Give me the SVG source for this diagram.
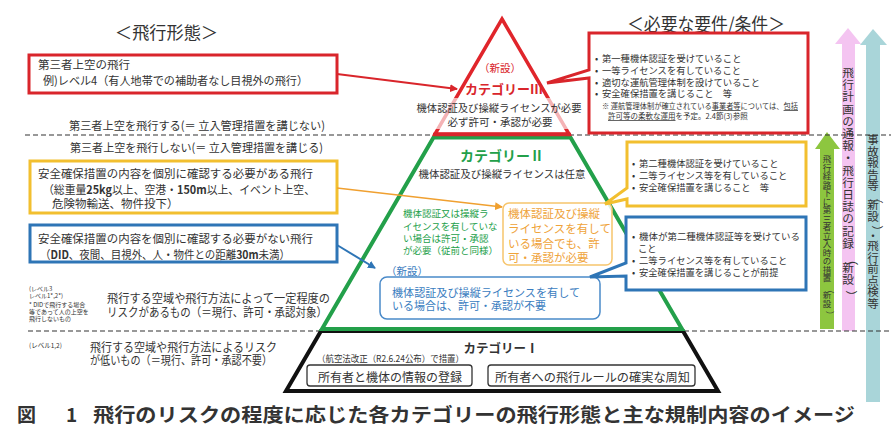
<svg xmlns="http://www.w3.org/2000/svg" width="892" height="441" viewBox="0 0 892 441">
<style>
text{font-family:"Noto Sans CJK JP","Noto Sans",sans-serif;fill:#333;dominant-baseline:central}
.b{font-weight:700}
.dash{stroke:#333;stroke-width:1.2;stroke-dasharray:5 3;fill:none}
.vt{text-anchor:middle}
.red{fill:#D9252B}
.grn{fill:#23A04A}
.org{fill:#EFA33A}
.blu{fill:#3A7DC0}
.u{text-decoration:underline}
</style>
<defs>
<marker id="ahR" markerWidth="8" markerHeight="8" refX="7" refY="4" orient="auto" markerUnits="userSpaceOnUse"><path d="M0,0 L8,4 L0,8 Z" fill="#D9252B"/></marker>
<marker id="ahO" markerWidth="8" markerHeight="8" refX="7" refY="4" orient="auto" markerUnits="userSpaceOnUse"><path d="M0,0 L8,4 L0,8 Z" fill="#F0A030"/></marker>
<marker id="ahB" markerWidth="8" markerHeight="8" refX="7" refY="4" orient="auto" markerUnits="userSpaceOnUse"><path d="M0,0 L8,4 L0,8 Z" fill="#2E75B6"/></marker>
</defs>
<rect width="892" height="441" fill="#fff"/>

<!-- side arrows -->
<g id="arrow-green">
<polygon points="827,132 840,149 834,149 834,329 820,329 820,149 815,149" fill="#8DC63F"/>
<text class="vt" font-size="8.5"><tspan x="827" y="158">飛</tspan><tspan x="827" y="166.5">行</tspan><tspan x="827" y="175">経</tspan><tspan x="827" y="183.5">路</tspan><tspan x="827" y="192">下</tspan><tspan x="827" y="200.5">に</tspan><tspan x="827" y="209">第</tspan><tspan x="827" y="217.5">三</tspan><tspan x="827" y="226">者</tspan><tspan x="827" y="234.5">立</tspan><tspan x="827" y="243">入</tspan><tspan x="827" y="251.5">時</tspan><tspan x="827" y="260">の</tspan><tspan x="827" y="268.5">措</tspan><tspan x="827" y="277">置</tspan><tspan x="831.25" y="281.25" rotate="90">（</tspan><tspan x="827" y="294">新</tspan><tspan x="827" y="302.5">設</tspan><tspan x="831.25" y="306.75" rotate="90">）</tspan></text>
</g>
<g id="arrow-pink">
<polygon points="848,28 861,44 855,44 855,331 842,331 842,44 835,44" fill="#F4C4F1"/>
<text class="vt" font-size="11.7"><tspan x="848" y="71">飛</tspan><tspan x="848" y="83.2">行</tspan><tspan x="848" y="95.4">計</tspan><tspan x="848" y="107.6">画</tspan><tspan x="848" y="119.8">の</tspan><tspan x="848" y="132">通</tspan><tspan x="848" y="144.2">報</tspan><tspan x="848" y="156.4">・</tspan><tspan x="848" y="168.6">飛</tspan><tspan x="848" y="180.8">行</tspan><tspan x="848" y="193">日</tspan><tspan x="848" y="205.2">誌</tspan><tspan x="848" y="217.4">の</tspan><tspan x="848" y="229.6">記</tspan><tspan x="848" y="241.8">録</tspan><tspan x="853.85" y="248.15" rotate="90">（</tspan><tspan x="848" y="266.2">新</tspan><tspan x="848" y="278.4">設</tspan><tspan x="853.85" y="284.75" rotate="90">）</tspan></text>
</g>
<g id="arrow-teal">
<polygon points="873,29 887,45 880,45 880,402 866,402 866,45 860,45" fill="#A9D5D9"/>
<text class="vt" font-size="11.5"><tspan x="873" y="139">事</tspan><tspan x="873" y="150.5">故</tspan><tspan x="873" y="162">報</tspan><tspan x="873" y="173.5">告</tspan><tspan x="873" y="185">等</tspan><tspan x="878.75" y="187.25" rotate="90">（</tspan><tspan x="873" y="204">新</tspan><tspan x="873" y="215.5">設</tspan><tspan x="878.75" y="220.25" rotate="90">）</tspan><tspan x="873" y="235">・</tspan><tspan x="873" y="245">飛</tspan><tspan x="873" y="256.5">行</tspan><tspan x="873" y="268">前</tspan><tspan x="873" y="279.5">点</tspan><tspan x="873" y="291">検</tspan><tspan x="873" y="302.5">等</tspan></text>
</g>

<!-- dashed separators -->
<g id="separators">
<line class="dash" x1="25" y1="135" x2="891" y2="135"/>
<line class="dash" x1="28" y1="331" x2="891" y2="331"/>
</g>

<!-- headers -->
<text id="header-left" x="115" y="31" font-size="17" textLength="103" lengthAdjust="spacingAndGlyphs">＜飛行形態＞</text>
<text id="header-right" x="627" y="23" font-size="18" textLength="158" lengthAdjust="spacingAndGlyphs">＜必要な要件/条件＞</text>

<!-- pyramid -->
<g id="node-cat1">
<polygon points="321,331 683,331 718,391 286,391" fill="#fff" stroke="#111" stroke-width="4" stroke-linejoin="miter"/>
<text class="b" x="501" y="347" font-size="12.5" text-anchor="middle" fill="#222">カテゴリーⅠ</text>
<text x="317" y="358" font-size="9" textLength="147" lengthAdjust="spacingAndGlyphs">（航空法改正（R2.6.24公布）で措置）</text>
<rect x="307" y="365" width="165" height="21" rx="3" fill="#fff" stroke="#333" stroke-width="1.3"/>
<text x="318" y="376" font-size="12" textLength="144" lengthAdjust="spacingAndGlyphs">所有者と機体の情報の登録</text>
<rect x="488" y="365" width="207" height="21" rx="3" fill="#fff" stroke="#333" stroke-width="1.3"/>
<text x="495" y="376" font-size="12" textLength="195" lengthAdjust="spacingAndGlyphs">所有者への飛行ルールの確実な周知</text>
</g>

<g id="node-cat2">
<polygon points="433.5,137.5 570.5,137.5 682,329 322,329" fill="#fff" stroke="#23A04A" stroke-width="4"/>
<text class="b grn" x="502" y="155" font-size="14" text-anchor="middle">カテゴリーⅡ</text>
<text x="502" y="173" font-size="10.5" text-anchor="middle" textLength="167" lengthAdjust="spacingAndGlyphs">機体認証及び操縦ライセンスは任意</text>
<g font-size="9.5">
<text class="grn" x="403" y="213">機体認証又は操縦ラ</text>
<text class="grn" x="403" y="226">イセンスを有していな</text>
<text class="grn" x="403" y="238">い場合は許可・承認</text>
<text class="grn" x="403" y="250">が必要（従前と同様）</text>
</g>
</g>

<g id="node-cat3">
<polygon points="502,19 569,134 435,134" fill="#fff" stroke="#E0252B" stroke-width="3.5" stroke-linejoin="miter"/>
<line x1="433" y1="134.5" x2="571" y2="134.5" stroke="#D9252B" stroke-width="3.5"/>
<rect x="412" y="98" width="178" height="31" fill="#fff" opacity="0.65"/>
<text class="red" x="500" y="67" font-size="10.5" text-anchor="middle">（新設）</text>
<text class="b red" x="504" y="88" font-size="13" text-anchor="middle">カテゴリーⅢ</text>
<text x="499" y="107" font-size="10.5" text-anchor="middle" textLength="165" lengthAdjust="spacingAndGlyphs">機体認証及び操縦ライセンスが必要</text>
<text x="500" y="121" font-size="10.5" text-anchor="middle">必ず許可・承認が必要</text>
</g>

<!-- inner notes -->
<g id="node-orange-note">
<rect x="503" y="203" width="109" height="62" rx="6" fill="#fff" fill-opacity="0.85" stroke="#F6C56C" stroke-width="1.5"/>
<g font-size="11.5">
<text class="org" x="508" y="213">機体認証及び操縦</text>
<text class="org" x="508" y="228">ライセンスを有して</text>
<text class="org" x="508" y="243">いる場合でも、許</text>
<text class="org" x="508" y="257">可・承認が必要</text>
</g>
</g>
<g id="node-blue-note">
<text class="blu" x="386" y="270" font-size="10.5">（新設）</text>
<rect x="380" y="277" width="220" height="42" rx="7" fill="#fff" stroke="#4A8AC9" stroke-width="1.5"/>
<text class="blu" x="392" y="292" font-size="11" textLength="188" lengthAdjust="spacingAndGlyphs">機体認証及び操縦ライセンスを有して</text>
<text class="blu" x="392" y="305" font-size="11">いる場合は、許可・承認が不要</text>
</g>

<!-- left boxes -->
<g id="box-level4">
<rect x="29" y="55" width="308" height="38" fill="#fff" stroke="#D9252B" stroke-width="3"/>
<text x="38" y="64" font-size="11.5">第三者上空の飛行</text>
<text x="43" y="80" font-size="11.5" textLength="265" lengthAdjust="spacingAndGlyphs">例)レベル4（有人地帯での補助者なし目視外の飛行）</text>
</g>
<text id="label-over" x="69" y="125" font-size="11.5" textLength="256" lengthAdjust="spacingAndGlyphs">第三者上空を飛行する(＝ 立入管理措置を講じない)</text>
<text id="label-notover" x="70" y="147" font-size="11.5" textLength="253" lengthAdjust="spacingAndGlyphs">第三者上空を飛行しない(＝ 立入管理措置を講じる)</text>

<g id="box-yellow">
<rect x="30" y="161" width="307" height="52" fill="#fff" stroke="#F2BF2F" stroke-width="3"/>
<text x="38" y="173" font-size="11.5" textLength="275" lengthAdjust="spacingAndGlyphs">安全確保措置の内容を個別に確認する必要がある飛行</text>
<text x="43" y="189" font-size="11.5" textLength="272" lengthAdjust="spacingAndGlyphs">（総重量<tspan class="b">25kg</tspan>以上、空港・<tspan class="b">150m</tspan>以上、イベント上空、</text>
<text x="52" y="203" font-size="11.5">危険物輸送、物件投下）</text>
</g>

<g id="box-blue">
<rect x="30" y="225" width="307" height="37" fill="#fff" stroke="#2E75B6" stroke-width="3"/>
<text x="38" y="238" font-size="11.5" textLength="275" lengthAdjust="spacingAndGlyphs">安全確保措置の内容を個別に確認する必要がない飛行</text>
<text x="40" y="254" font-size="11.5" textLength="250" lengthAdjust="spacingAndGlyphs">（<tspan class="b">DID</tspan>、夜間、目視外、人・物件との距離<tspan class="b">30m</tspan>未満）</text>
</g>

<g id="label-level3">
<g font-size="6">
<text x="29" y="288">(レベル3</text>
<text x="29" y="295">レベル1*,2*)</text>
<text x="29" y="304">* DIDで飛行する場合</text>
<text x="29" y="311">等であって人の上空を</text>
<text x="29" y="318">飛行しないもの</text>
</g>
<text x="107" y="297" font-size="12" textLength="223" lengthAdjust="spacingAndGlyphs">飛行する空域や飛行方法によって一定程度の</text>
<text x="107" y="311" font-size="12" textLength="220" lengthAdjust="spacingAndGlyphs">リスクがあるもの（＝現行、許可・承認対象）</text>
</g>
<g id="label-level12">
<text x="29" y="345" font-size="6.5">(レベル1,2)</text>
<text x="90" y="346" font-size="12" textLength="187" lengthAdjust="spacingAndGlyphs">飛行する空域や飛行方法によるリスク</text>
<text x="90" y="359" font-size="12" textLength="182" lengthAdjust="spacingAndGlyphs">が低いもの（＝現行、許可・承認不要）</text>
</g>

<!-- right callouts -->
<g id="req-cat3">
<path d="M589,33 H808 V133 H589 V78 L547,83 L589,70 Z" fill="#fff" stroke="#D9252B" stroke-width="3" stroke-linejoin="miter"/>
<g font-size="9.3">
<text x="595" y="58">•</text><text x="602" y="58">第一種機体認証を受けていること</text>
<text x="595" y="70">•</text><text x="602" y="70">一等ライセンスを有していること</text>
<text x="595" y="82">•</text><text x="602" y="82">適切な運航管理体制を設けていること</text>
<text x="595" y="93">•</text><text x="602" y="93">安全確保措置を講じること　等</text>
</g>
<text x="602" y="105" font-size="7.5" textLength="196" lengthAdjust="spacingAndGlyphs">※ 運航管理体制が確立されている<tspan class="u">事業者等</tspan>については、<tspan class="u">包括</tspan></text>
<text x="608" y="115" font-size="7.5"><tspan class="u">許可等の柔軟な運用</tspan>を予定。2.4節(3)参照</text>
</g>

<g id="req-cat2-yellow">
<path d="M627,142 H806 V206 H627 V199 L605,204 L627,188 Z" fill="#fff" stroke="#F2BF2F" stroke-width="3"/>
<g font-size="9.3">
<text x="632" y="163">•</text><text x="639" y="163">第二種機体認証を受けていること</text>
<text x="632" y="175">•</text><text x="639" y="175">二等ライセンス等を有していること</text>
<text x="632" y="187">•</text><text x="639" y="187">安全確保措置を講じること　等</text>
</g>
</g>

<g id="req-cat2-blue">
<path d="M626,217 H806 V290 H626 V276 L590,277 L626,263 Z" fill="#fff" stroke="#2E75B6" stroke-width="3"/>
<g font-size="9.3">
<text x="632" y="236">•</text><text x="639" y="236" textLength="161" lengthAdjust="spacingAndGlyphs">機体が第二種機体認証等を受けている</text>
<text x="638" y="248">こと</text>
<text x="632" y="260">•</text><text x="639" y="260">二等ライセンス等を有していること</text>
<text x="632" y="272">•</text><text x="639" y="272">安全確保措置を講じることが前提</text>
</g>
</g>

<!-- connectors -->
<g id="connectors" fill="none">
<line x1="337" y1="74" x2="457" y2="89" stroke="#D9252B" stroke-width="2" marker-end="url(#ahR)"/>
<line x1="337" y1="188" x2="502" y2="207" stroke="#F0A030" stroke-width="1.5" marker-end="url(#ahO)"/>
<line x1="337" y1="245" x2="375" y2="268" stroke="#2E75B6" stroke-width="2" marker-end="url(#ahB)"/>
</g>

<!-- caption -->
<g id="caption">
<text class="b" x="17" y="413" font-size="19" fill="#111">図</text>
<text class="b" x="66" y="413" font-size="19" fill="#111">1</text>
<text class="b" x="93" y="413" font-size="19" fill="#111" textLength="762" lengthAdjust="spacingAndGlyphs">飛行のリスクの程度に応じた各カテゴリーの飛行形態と主な規制内容のイメージ</text>
</g>
</svg>
